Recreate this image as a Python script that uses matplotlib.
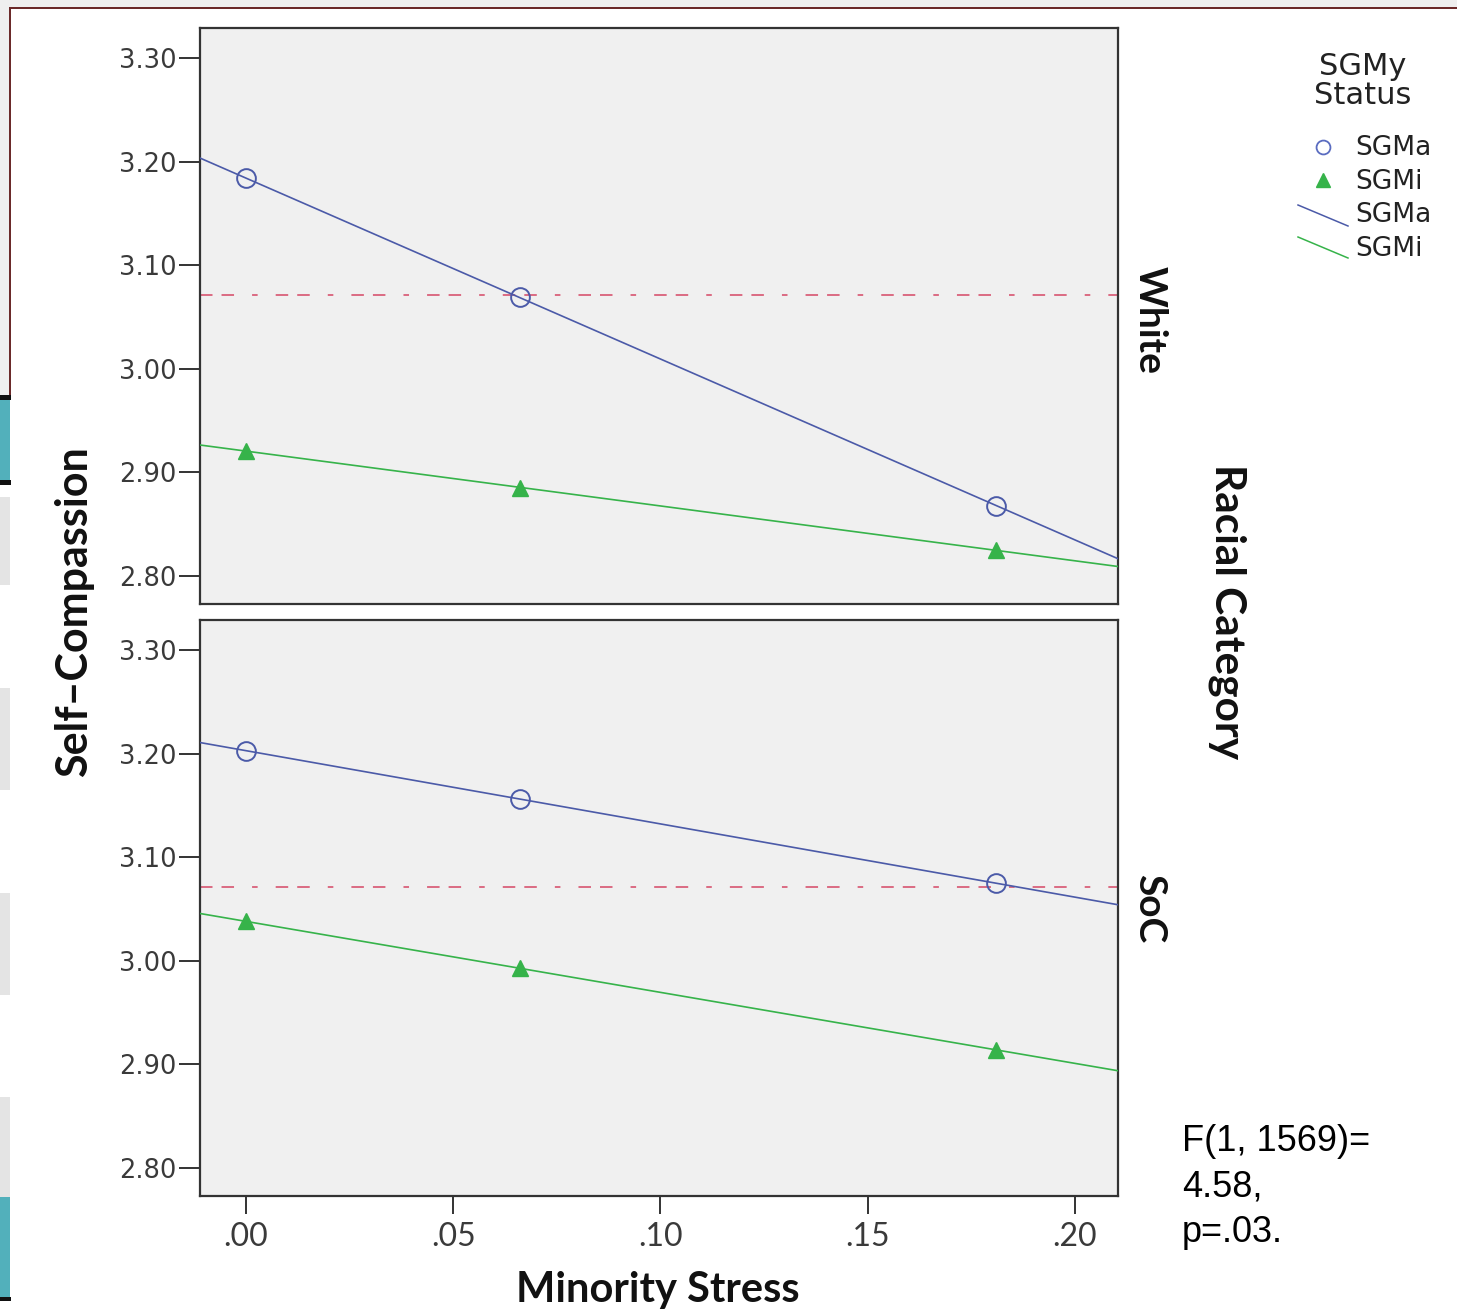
import numpy as np
import matplotlib
matplotlib.use("Agg")
import matplotlib.pyplot as plt
from matplotlib.lines import Line2D
from matplotlib.patches import Rectangle

# values
stress_x = [0.0, 0.066, 0.181]
panels = ["White", "SoC"]
sgma_vals = {"White": [3.184, 3.069, 2.868], "SoC": [3.203, 3.156, 3.075]}
sgmi_vals = {"White": [2.921, 2.885, 2.825], "SoC": [3.038, 2.993, 2.914]}
ref_level = 3.071
y_ticks = [2.80, 2.90, 3.00, 3.10, 3.20, 3.30]
x_ticks = [0.00, 0.05, 0.10, 0.15, 0.20]
x_tick_labels = [".00", ".05", ".10", ".15", ".20"]
stat_text = "F(1, 1569)=\n4.58,\np=.03."

W, H = 1457, 1313
BLUE = "#4b5aa8"
GREEN = "#36b34a"
REF = "#d9607a"
XLIM = (-0.0111, 0.2104)
YLIM = (2.773, 3.329)
plt.rcParams["lines.scale_dashes"] = False

fig = plt.figure(figsize=(W / 100, H / 100), dpi=100)
fig.patch.set_facecolor("white")


def px(x, y):
    return x / W, 1 - y / H


def rect(x0, y0, x1, y1, color):
    fig.add_artist(Rectangle((x0 / W, 1 - y1 / H), (x1 - x0) / W, (y1 - y0) / H,
                             transform=fig.transFigure, color=color, lw=0, zorder=0))


# slide background bits around the edge
rect(0, 0, W, 8, "#efefef")
rect(0, 0, 9, 395, "#efefef")
rect(9, 7, W, 9, "#6b2a2a")
rect(9, 7, 11, 395, "#6b2a2a")
rect(0, 395, 11, 400, "#111111")
rect(0, 400, 10, 480, "#52b0bb")
rect(0, 480, 11, 485, "#111111")
for y0, y1 in [(497, 585), (688, 790), (893, 995), (1097, 1197)]:
    rect(0, y0, 10, y1, "#e4e4e4")
rect(0, 1197, 10, 1297, "#52b0bb")
rect(0, 1297, 11, 1301, "#111111")

ax_left, ax_w, ax_h = 200 / W, 918 / W, 576 / H
axes = [fig.add_axes([ax_left, 1 - 604 / H, ax_w, ax_h]),
        fig.add_axes([ax_left, 1 - 1196 / H, ax_w, ax_h])]

xfit = np.array(XLIM)
for ax, name in zip(axes, panels):
    ax.set_facecolor("#f0f0f0")
    for sp in ax.spines.values():
        sp.set_color("#333333")
        sp.set_linewidth(1.6)
    ax.axhline(ref_level, color=REF, lw=1.3, dashes=(9, 6.5, 9, 13, 4, 13))
    for vals, col in [(sgma_vals[name], BLUE), (sgmi_vals[name], GREEN)]:
        k, b = np.polyfit(stress_x, vals, 1)
        ax.plot(xfit, k * xfit + b, color=col, lw=1.2, zorder=3)
    ax.plot(stress_x, sgma_vals[name], ls="none", marker="o", ms=13.5,
            mfc="none", mec=BLUE, mew=1.4, zorder=4)
    ax.plot(stress_x, sgmi_vals[name], ls="none", marker="^", ms=11.5,
            mfc=GREEN, mec=GREEN, zorder=4)
    ax.set_xlim(XLIM)
    ax.set_ylim(YLIM)
    ax.set_yticks(y_ticks)
    ax.set_yticklabels(["%.2f" % v for v in y_ticks], fontsize=18.5,
                       color="#3a3a3a", family="DejaVu Sans")
    ax.tick_params(axis="y", length=15, width=1.4, color="#333333", pad=2)
    ax.set_xticks(x_ticks)
    ax.tick_params(axis="x", length=13, width=1.4, color="#333333", pad=6)

axes[0].tick_params(axis="x", bottom=False, labelbottom=False)
axes[1].set_xticklabels(x_tick_labels, fontsize=23, color="#3a3a3a",
                        family="Lato")

lab = dict(family="Lato", weight="bold", color="#111111")
fig.text(*px(74, 612), "Self\u2013Compassion", rotation=90, ha="center",
         va="center", fontsize=31, **lab)
fig.text(*px(658, 1290), "Minority Stress", ha="center", va="center",
         fontsize=30, **lab)
fig.text(*px(1227, 612), "Racial Category", rotation=-90, ha="center",
         va="center", fontsize=30.5, **lab)
fig.text(*px(1150, 320), "White", rotation=-90, ha="center", va="center",
         fontsize=28, **lab)
fig.text(*px(1150, 909), "SoC", rotation=-90, ha="center", va="center",
         fontsize=28, **lab)

# legend drawn by hand, SPSS style
fig.text(*px(1363, 81), "SGMy\nStatus", ha="center", va="center",
         fontsize=22, color="#222222", linespacing=1.0)
leg = dict(ha="left", va="center", fontsize=19, color="#222222")
fig.add_artist(Line2D([1323 / W], [1 - 147 / H], marker="o", ms=10, mfc="none",
                      mec="#5a6cc0", mew=1.3, transform=fig.transFigure))
fig.add_artist(Line2D([1323 / W], [1 - 180 / H], marker="^", ms=10, mfc=GREEN,
                      mec=GREEN, transform=fig.transFigure))
fig.add_artist(Line2D([1298 / W, 1348 / W], [1 - 205 / H, 1 - 226 / H],
                      color=BLUE, lw=1.1, transform=fig.transFigure))
fig.add_artist(Line2D([1298 / W, 1348 / W], [1 - 237 / H, 1 - 258 / H],
                      color=GREEN, lw=1.1, transform=fig.transFigure))
for yy, t in zip([148, 182, 215, 249], ["SGMa", "SGMi", "SGMa", "SGMi"]):
    fig.text(*px(1355, yy), t, **leg)

fig.text(*px(1182, 1124), stat_text, ha="left", va="top", fontsize=26,
         family="Liberation Sans", color="black", linespacing=1.38)

fig.savefig("out.png", dpi=100)
